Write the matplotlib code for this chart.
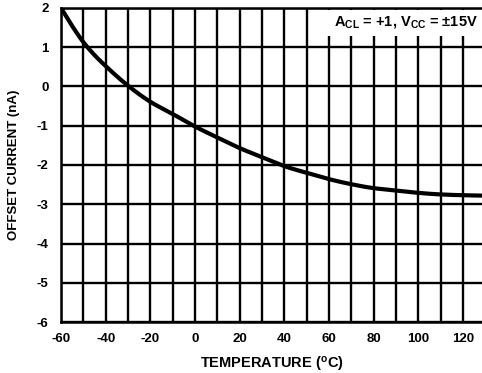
import matplotlib
matplotlib.use("Agg")
import matplotlib.pyplot as plt
from matplotlib.patches import Rectangle
import numpy as np

temps = [-60, -55, -50, -45, -40, -30, -20, -10, 0, 10, 20, 30, 40, 50, 60, 70, 80, 90, 100, 110, 120, 128.5]
offset = [2.0, 1.54, 1.13, 0.80, 0.52, 0.02, -0.39, -0.70, -1.02, -1.30, -1.57, -1.80, -2.03, -2.20, -2.36, -2.49, -2.59, -2.65, -2.71, -2.75, -2.77, -2.78]
xticks = [-60, -40, -20, 0, 20, 40, 60, 80, 100, 120]
yticks = [2, 1, 0, -1, -2, -3, -4, -5, -6]

plt.rcParams['font.family'] = 'Liberation Sans'
plt.rcParams['font.weight'] = 'bold'
plt.rcParams['mathtext.fontset'] = 'custom'
plt.rcParams['mathtext.rm'] = 'Liberation Sans:bold'
plt.rcParams['mathtext.bf'] = 'Liberation Sans:bold'
plt.rcParams['mathtext.it'] = 'Liberation Sans:bold'

fig = plt.figure(figsize=(4.82, 3.73), dpi=100)
ax = fig.add_axes([0.1266, 0.1367, 0.8734, 0.8419])

xs = np.array(temps, dtype=float)
ys = np.array(offset, dtype=float)
xf = np.linspace(xs[0], xs[-1], 400)
def pchip(x, y, xn):
    h = np.diff(x); d = np.diff(y) / h
    m = np.zeros_like(y)
    for k in range(1, len(x) - 1):
        if d[k-1] * d[k] > 0:
            w1 = 2*h[k] + h[k-1]; w2 = h[k] + 2*h[k-1]
            m[k] = (w1 + w2) / (w1/d[k-1] + w2/d[k])
    m[0] = d[0]; m[-1] = d[-1]
    idx = np.clip(np.searchsorted(x, xn) - 1, 0, len(x) - 2)
    t = (xn - x[idx]) / h[idx]
    h00 = 2*t**3 - 3*t**2 + 1; h10 = t**3 - 2*t**2 + t
    h01 = -2*t**3 + 3*t**2; h11 = t**3 - t**2
    return h00*y[idx] + h10*h[idx]*m[idx] + h01*y[idx+1] + h11*h[idx]*m[idx+1]
yf = pchip(xs, ys, xf)
ax.plot(xf, yf, color='black', lw=3.0, zorder=3, solid_capstyle='butt')

ax.set_xlim(-60, 128.5)
ax.set_ylim(-6, 2)
ax.set_xticks(xticks)
ax.set_xticks(np.arange(-50, 129, 20), minor=True)
ax.set_yticks(yticks)
ax.set_xticklabels([str(t) for t in xticks], fontweight='bold', fontsize=9.5)
ax.set_yticklabels([str(t) for t in yticks], fontweight='bold', fontsize=9.5)
ax.tick_params(axis='x', which='both', length=0, pad=8)
ax.tick_params(axis='y', which='both', length=0, pad=9)
ax.set_axisbelow(True)
ax.grid(which='both', axis='x', color='black', lw=1.7)
ax.grid(which='major', axis='y', color='black', lw=1.7)

for s in ['left', 'bottom', 'top']:
    ax.spines[s].set_linewidth(1.8)
ax.spines['right'].set_visible(False)

ax.add_patch(Rectangle((0.61, 0.912), 0.39, 0.083, transform=ax.transAxes,
                       facecolor='white', edgecolor='none', zorder=1))
ax.text(0.99, 0.955, r"A$_{\mathrm{CL}}$ = +1, V$_{\mathrm{CC}}$ = ±15V",
        transform=ax.transAxes, ha='right', va='center', fontsize=10.5, fontweight='bold', zorder=4)

ax.set_xlabel(r"TEMPERATURE ($^{\mathrm{o}}$C)", fontsize=10.5, fontweight='bold', labelpad=7)
ax.set_ylabel("OFFSET CURRENT (nA)", fontsize=9.5, fontweight='bold', labelpad=12)

fig.savefig("out.png", dpi=100)
